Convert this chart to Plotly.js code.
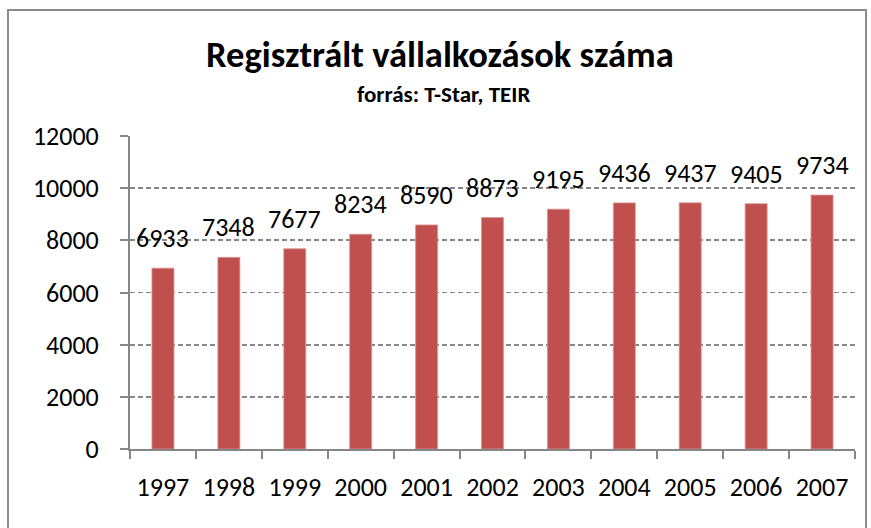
<!DOCTYPE html>
<html>
<head>
<meta charset="utf-8">
<script src="https://cdn.plot.ly/plotly-3.0.1.min.js"></script>
<style>
html,body{margin:0;padding:0;background:#fff;}
#chart{width:871px;height:528px;}
</style>
</head>
<body>
<div id="chart"></div>
<script>
const years = ['1997','1998','1999','2000','2001','2002','2003','2004','2005','2006','2007'];
const counts = [6933, 7348, 7677, 8234, 8590, 8873, 9195, 9436, 9437, 9405, 9734];
const yTicks = [0, 2000, 4000, 6000, 8000, 10000, 12000];
const titleText = 'Regisztrált vállalkozások száma';
const subtitleText = 'forrás: T-Star, TEIR';

const FONT = 'Carlito, Lato, "Liberation Sans", sans-serif';
const gray = '#868686';

const trace = {
  type: 'bar',
  x: years,
  y: counts,
  marker: {color: '#C0504D', line: {color: '#D99694', width: 0.8}},
  hoverinfo: 'x+y'
};

const labels = years.map((yr, i) => ({
  x: i, y: counts[i], xref: 'x', yref: 'y',
  text: String(counts[i]), showarrow: false,
  yanchor: 'bottom', yshift: 12,
  font: {family: FONT, size: 26, color: '#000'}
}));

const L = 130, R = 16, T = 136, B = 79;
const pw = 871 - L - R, ph = 528 - T - B;
const px = v => (v - L) / pw;
const py = v => 1 - (v - T) / ph;

const layout = {
  width: 871, height: 528,
  margin: {l: L, r: R, t: T, b: B},
  paper_bgcolor: '#fff', plot_bgcolor: '#fff',
  showlegend: false,
  bargap: 0.666,
  font: {family: FONT, size: 26, color: '#000'},
  xaxis: {
    type: 'category',
    range: [-0.5, years.length - 0.5],
    tickangle: 0,
    showline: true, linecolor: gray, linewidth: 2,
    ticks: 'outside', tickson: 'boundaries', ticklen: 8, tickcolor: gray, tickwidth: 2,
    showgrid: false, zeroline: false,
    tickfont: {family: FONT, size: 26, color: '#000'},
    ticklabelstandoff: 14
  },
  yaxis: {
    range: [0, 12000],
    tickvals: yTicks,
    ticktext: yTicks.map(String),
    showline: true, linecolor: gray, linewidth: 2,
    ticks: 'outside', ticklen: 8, tickcolor: gray, tickwidth: 2,
    showgrid: true, gridcolor: gray, gridwidth: 1.7, griddash: '5px,3px',
    zeroline: false,
    tickfont: {family: FONT, size: 26, color: '#000'},
    ticklabelstandoff: 16
  },
  annotations: labels.concat([
    {xref: 'paper', yref: 'paper', x: px(440), y: py(79), xanchor: 'center', yanchor: 'bottom',
     text: '<b>' + titleText + '</b>', showarrow: false,
     font: {family: FONT, size: 36.5, color: '#000'}},
    {xref: 'paper', yref: 'paper', x: px(443), y: py(110), xanchor: 'center', yanchor: 'bottom',
     text: '<b>' + subtitleText + '</b>', showarrow: false,
     font: {family: FONT, size: 23, color: '#000'}}
  ]),
  shapes: [
    {type: 'rect', xref: 'paper', yref: 'paper', x0: px(8), x1: px(866), y0: py(535), y1: py(10),
     line: {color: '#8c8c8c', width: 2}, fillcolor: 'rgba(0,0,0,0)', layer: 'below'}
  ]
};

Plotly.newPlot('chart', [trace], layout, {displayModeBar: false, staticPlot: true});
</script>
</body>
</html>
